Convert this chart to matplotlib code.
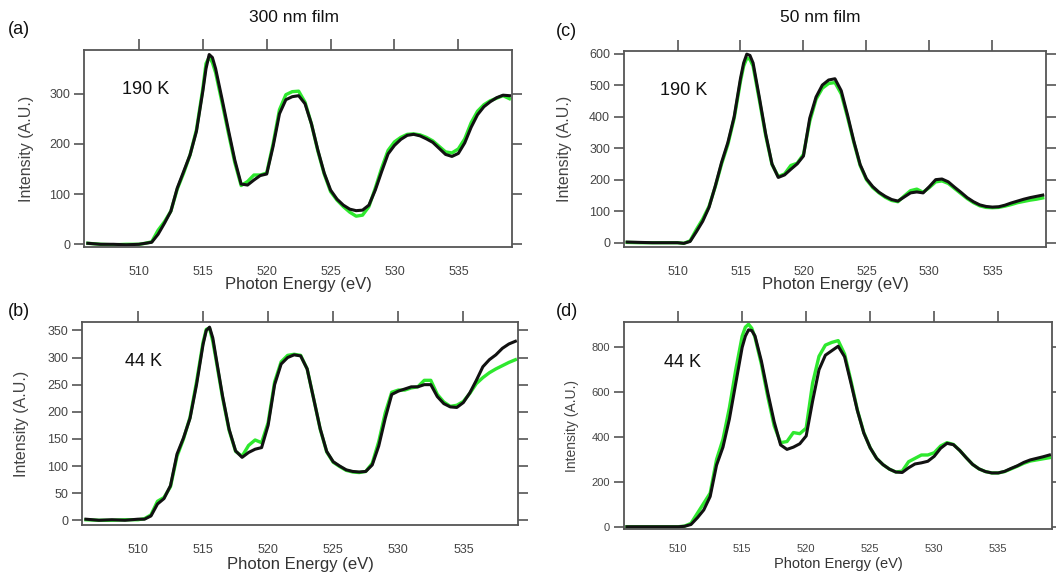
import matplotlib
matplotlib.use("Agg")
import matplotlib.pyplot as plt

plt.rcParams['font.family'] = ['Liberation Sans', 'DejaVu Sans']

# Common photon-energy grid (eV)
energy = [506, 507, 508, 509, 510, 510.5, 511, 511.5, 512, 512.5, 513, 513.5,
          514, 514.5, 515, 515.25, 515.5, 515.75, 516, 516.5, 517, 517.5, 518,
          518.5, 519, 519.5, 520, 520.5, 521, 521.5, 522, 522.5, 523, 523.5,
          524, 524.5, 525, 525.5, 526, 526.5, 527, 527.5, 528, 528.5, 529,
          529.5, 530, 530.5, 531, 531.5, 532, 532.5, 533, 533.5, 534, 534.5,
          535, 535.5, 536, 536.5, 537, 537.5, 538, 538.5, 539]

# (a) 300 nm film, 190 K
a_black = [2, 0, 0, -1, 0, 2, 4, 20, 42, 66, 112, 145,
           178, 225, 305, 350, 378, 372, 350, 290, 228, 168, 120,
           118, 128, 137, 140, 195, 260, 288, 294, 296, 280, 240,
           188, 142, 108, 90, 78, 70, 67, 68, 78, 108, 145,
           180, 197, 209, 217, 219, 216, 210, 203, 191, 179, 175,
           181, 202, 233, 258, 274, 284, 292, 297, 296]
a_green = [2, 0, -1, 0, 0, 2, 5, 28, 45, 66, 110, 142,
           178, 228, 310, 360, 373, 362, 342, 283, 222, 163, 117,
           125, 138, 138, 142, 200, 268, 298, 304, 305, 283, 240,
           186, 140, 105, 88, 75, 64, 56, 58, 75, 112, 152,
           187, 204, 213, 219, 220, 218, 213, 206, 195, 184, 182,
           190, 210, 242, 265, 278, 286, 291, 296, 290]

# (b) 300 nm film, 44 K
b_black = [2, 0, 1, 0, 2, 2, 8, 30, 40, 64, 122, 152,
           188, 250, 324, 350, 356, 336, 300, 229, 168, 128, 116,
           125, 131, 134, 175, 250, 288, 300, 305, 303, 279, 224,
           169, 127, 108, 100, 93, 90, 89, 90, 102, 137, 188,
           232, 238, 242, 246, 246, 250, 250, 228, 215, 209, 208,
           217, 235, 258, 283, 296, 305, 317, 325, 330]
b_green = [1, 0, 0, 1, 1, 3, 10, 35, 42, 62, 118, 150,
           190, 255, 328, 352, 354, 330, 296, 226, 166, 127, 118,
           138, 148, 143, 180, 255, 292, 304, 306, 304, 279, 224,
           168, 126, 107, 99, 92, 89, 88, 90, 105, 145, 198,
           236, 240, 240, 244, 246, 258, 258, 232, 218, 210, 212,
           219, 234, 252, 263, 272, 279, 285, 291, 296]

# (c) 50 nm film, 190 K
c_black = [2, 1, 0, 0, 0, -2, 4, 35, 68, 112, 180, 255,
           318, 400, 521, 570, 598, 594, 570, 460, 345, 250, 207,
           215, 233, 250, 275, 395, 462, 500, 516, 520, 482, 405,
           322, 248, 203, 178, 160, 147, 137, 132, 145, 158, 161,
           158, 178, 200, 202, 193, 176, 160, 143, 130, 120, 115,
           113, 114, 119, 126, 132, 138, 143, 147, 151]
c_green = [1, 0, 0, 0, 0, -2, 6, 42, 75, 115, 178, 250,
           312, 395, 512, 560, 585, 582, 560, 452, 340, 248, 210,
           218, 245, 252, 280, 385, 455, 490, 505, 508, 472, 398,
           318, 245, 200, 175, 158, 144, 134, 130, 148, 165, 170,
           160, 175, 193, 196, 188, 172, 156, 140, 127, 117, 112,
           111, 112, 116, 121, 127, 131, 135, 138, 142]

# (d) 50 nm film, 44 K
d_black = [0, 0, 0, 0, 0, 2, 10, 40, 75, 135, 275, 355,
           480, 640, 800, 850, 878, 875, 851, 739, 598, 468, 365,
           345, 355, 370, 405, 560, 700, 765, 785, 805, 758, 640,
           518, 418, 352, 305, 277, 257, 244, 242, 263, 280, 285,
           292, 314, 350, 372, 366, 340, 308, 278, 258, 246, 240,
           240, 247, 260, 272, 287, 298, 305, 312, 320]
d_green = [0, 0, 0, 0, 0, 3, 15, 60, 105, 150, 300, 390,
           530, 700, 850, 890, 903, 885, 845, 725, 580, 450, 375,
           380, 420, 415, 440, 640, 760, 810, 822, 830, 770, 650,
           520, 420, 352, 305, 277, 257, 244, 248, 290, 305, 320,
           320, 330, 360, 375, 367, 340, 308, 278, 258, 246, 240,
           240, 246, 258, 270, 283, 293, 298, 303, 308]

x_ticks = [510, 515, 520, 525, 530, 535]
W, H = 1056, 580

panels = [
    dict(lab='(a)', temp='190 K', k=a_black, g=a_green, box=(84, 512, 50, 247),
         xlim=(505.7, 539.2), ylim=(-5.4, 387), yt=[0, 100, 200, 300],
         tick_fs=9, lab_fs=12, tpos=(0.089, 0.797), panpos=(8, 30),
         ylab_x=26, xlab_y=284, xpad=6),
    dict(lab='(b)', temp='44 K', k=b_black, g=b_green, box=(82, 518, 322, 525),
         xlim=(505.7, 539.2), ylim=(-8.7, 365.5), yt=list(range(0, 351, 50)),
         tick_fs=9, lab_fs=12, tpos=(0.099, 0.804), panpos=(8, 312),
         ylab_x=22, xlab_y=565, xpad=6),
    dict(lab='(c)', temp='190 K', k=c_black, g=c_green, box=(624, 1046, 51, 247),
         xlim=(505.75, 539.26), ylim=(-13.6, 608), yt=list(range(0, 601, 100)),
         tick_fs=9, lab_fs=12, tpos=(0.085, 0.797), panpos=(556, 32),
         ylab_x=565, xlab_y=284, xpad=6),
    dict(lab='(d)', temp='44 K', k=d_black, g=d_green, box=(624, 1052, 322, 529),
         xlim=(505.77, 539.2), ylim=(-10, 913), yt=[0, 200, 400, 600, 800],
         tick_fs=8, lab_fs=10.5, tpos=(0.093, 0.803), panpos=(556, 312),
         ylab_x=572, xlab_y=564, xpad=2.5),
]

fig = plt.figure(figsize=(W / 100, H / 100), dpi=100)
fig.patch.set_facecolor('white')

for p in panels:
    l, r, t, b = p['box']
    ax = fig.add_axes([l / W, 1 - b / H, (r - l) / W, (b - t) / H])
    ax.plot(energy, p['g'], color='#2ee82e', lw=2.4, solid_joinstyle='round')
    ax.plot(energy, p['k'], color='#111111', lw=2.2, solid_joinstyle='round')
    ax.set_xlim(*p['xlim'])
    ax.set_ylim(*p['ylim'])
    ax.set_xticks(x_ticks)
    ax.set_yticks(p['yt'])
    for s in ax.spines.values():
        s.set_color('#555555')
        s.set_linewidth(1.3)
    ax.tick_params(axis='x', direction='out', length=8, width=1.2, colors='#555555',
                   bottom=False, top=True, labelbottom=True, labeltop=False,
                   labelsize=p['tick_fs'], labelcolor='#444444', pad=p['xpad'])
    ax.tick_params(axis='y', direction='out', length=7, width=1.2, colors='#555555',
                   left=True, right=True, labelleft=True, labelright=False,
                   labelsize=p['tick_fs'], labelcolor='#444444', pad=3)
    ax.text(p['tpos'][0], p['tpos'][1], p['temp'], transform=ax.transAxes,
            fontsize=13, color='#111111', ha='left', va='center')
    fig.text(p['panpos'][0] / W, 1 - p['panpos'][1] / H, p['lab'], fontsize=13,
             color='#111111', ha='left', va='center')
    fig.text(p['ylab_x'] / W, 1 - ((t + b) / 2) / H, 'Intensity (A.U.)',
             rotation=90, fontsize=p['lab_fs'] - 0.5, color='#444444',
             ha='center', va='center')
    fig.text(((l + r) / 2) / W, 1 - p['xlab_y'] / H, 'Photon Energy (eV)',
             fontsize=p['lab_fs'], color='#333333', ha='center', va='center')

fig.text(294 / W, 1 - 17 / H, '300 nm film', fontsize=12.5, color='#111111',
         ha='center', va='center')
fig.text(820 / W, 1 - 17 / H, '50 nm film', fontsize=12.5, color='#111111',
         ha='center', va='center')

fig.savefig('out.png', dpi=100, facecolor='white')
